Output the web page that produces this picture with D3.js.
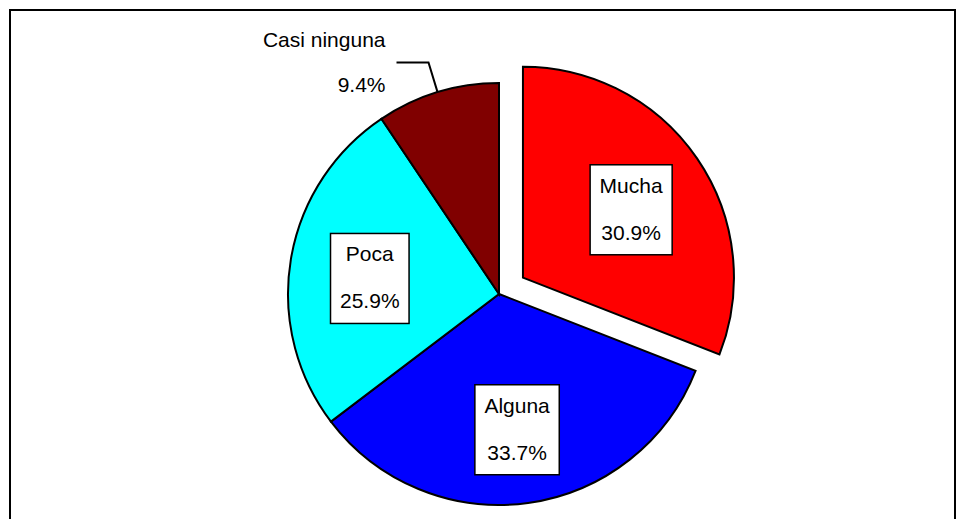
<!DOCTYPE html>
<html>
<head>
<meta charset="utf-8">
<script src="https://cdn.jsdelivr.net/npm/d3@7"></script>
<style>
  body { margin: 0; background: #fff; }
  text { font-family: "Liberation Sans", Arial, sans-serif; font-size: 21px; fill: #000; }
</style>
</head>
<body>
<svg width="964" height="519"></svg>
<script>
const svg = d3.select("svg");
const width = 964;
const height = 519;

// data
const categories = ['Mucha', 'Alguna', 'Poca', 'Casi ninguna'];
const values = [30.9, 33.7, 25.9, 9.4];
const colors = ['#ff0000', '#0000ff', '#00ffff', '#800000'];
const exploded = [true, false, false, false];
const outsideLabel = [false, false, false, true];

const data = categories.map((c, i) => ({ name: c, value: values[i], color: colors[i], explode: exploded[i], outside: outsideLabel[i] }));

const cx = 499;
const cy = 294;
const radius = 211;
const explodeDist = 29;
const labelRadius = 131;
const labelShift = 6;

// frame
svg.append('rect')
  .attr('x', 10).attr('y', 10)
  .attr('width', 945).attr('height', 530)
  .attr('fill', 'none')
  .attr('stroke', '#000')
  .attr('stroke-width', 2);

const pie = d3.pie()
  .sort(null)
  .value(d => d.value);

const arc = d3.arc().innerRadius(0).outerRadius(radius);
const labelArc = d3.arc().innerRadius(labelRadius).outerRadius(labelRadius);

const arcs = pie(data);

const offset = d => {
  if (!d.data.explode) return [0, 0];
  const a = (d.startAngle + d.endAngle) / 2;
  return [Math.sin(a) * explodeDist, -Math.cos(a) * explodeDist];
};

const g = svg.append('g')
  .attr('transform', `translate(${cx},${cy})`);

const slices = g.selectAll('g.slice').data(arcs)
  .enter().append('g')
    .attr('class', 'slice')
    .attr('transform', d => `translate(${offset(d)})`);

slices.append('path')
  .attr('d', arc)
  .attr('fill', d => d.data.color)
  .attr('stroke', '#000')
  .attr('stroke-width', 2)
  .attr('stroke-linejoin', 'miter');

// boxed labels inside slices
const lineGap = 47;
const padX = 9.5;

slices.filter(d => !d.data.outside).each(function(d) {
  const s = d3.select(this);
  const [lx, ly] = labelArc.centroid(d);
  const lg = s.append('g').attr('transform', `translate(${lx},${ly + labelShift})`);
  const box = lg.append('rect')
    .attr('fill', '#fff')
    .attr('stroke', '#000')
    .attr('stroke-width', 1.5);
  const t1 = lg.append('text')
    .attr('text-anchor', 'middle')
    .attr('y', -17)
    .text(d.data.name);
  const t2 = lg.append('text')
    .attr('text-anchor', 'middle')
    .attr('y', -17 + lineGap)
    .text(d3.format('.1f')(d.data.value) + '%');
  const w = Math.max(t1.node().getComputedTextLength(), t2.node().getComputedTextLength()) + padX * 2;
  box.attr('x', -w / 2).attr('y', -45).attr('width', w).attr('height', 90);
});

// outside label with leader line
slices.filter(d => d.data.outside).each(function(d) {
  const s = d3.select(this);
  const a = (d.startAngle + d.endAngle) / 2;
  const p0 = [Math.sin(a) * radius, -Math.cos(a) * radius];
  const p1 = [Math.sin(a) * (radius + 31), -Math.cos(a) * (radius + 31)];
  const p2 = [p1[0] - 32, p1[1]];
  s.append('path')
    .attr('d', d3.line()([p0, p1, p2]))
    .attr('fill', 'none')
    .attr('stroke', '#000')
    .attr('stroke-width', 2);
  s.append('text')
    .attr('text-anchor', 'end')
    .attr('x', p2[0] - 11)
    .attr('y', p2[1] - 16)
    .text(d.data.name);
  s.append('text')
    .attr('text-anchor', 'end')
    .attr('x', p2[0] - 11)
    .attr('y', p2[1] - 16 + 45)
    .text(d3.format('.1f')(d.data.value) + '%');
});
</script>
</body>
</html>
